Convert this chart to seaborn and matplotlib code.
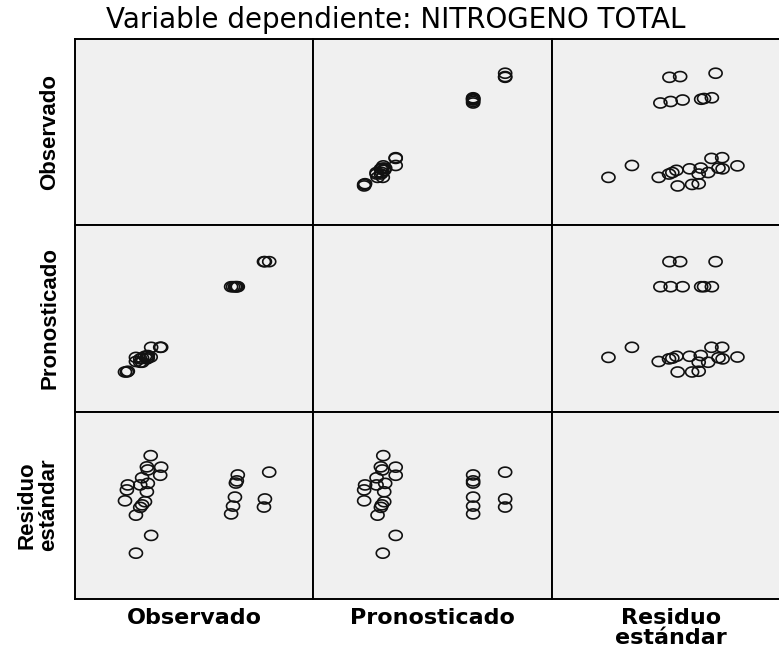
import matplotlib
matplotlib.use("Agg")
import numpy as np
import pandas as pd
import seaborn as sns
import matplotlib.pyplot as plt
from matplotlib.path import Path

# ---- data ----
observado = [0.159, 0.151, 0.153, 0.181, 0.179, 0.141, 0.111, 0.109, 0.137,
             0.153, 0.151, 0.105, 0.147, 0.141, 0.137, 0.128, 0.160, 0.128,
             0.342, 0.340, 0.338, 0.336, 0.332, 0.328,
             0.408, 0.399, 0.397]
pronosticado = [0.147, 0.142, 0.145, 0.173, 0.173, 0.133, 0.109, 0.107, 0.133,
                0.151, 0.149, 0.107, 0.149, 0.144, 0.142, 0.135, 0.173, 0.146,
                0.335, 0.335, 0.335, 0.335, 0.335, 0.335,
                0.402, 0.402, 0.402]
residuo = [1.60, 1.24, 1.14, 1.23, 0.97, 0.89, 0.66, 0.50, 0.66,
           0.71, 0.44, 0.15, 0.12, 0.02, -0.06, -0.31, -0.96, -1.53,
           0.98, 0.79, 0.72, 0.27, -0.02, -0.27,
           1.07, 0.21, -0.05]

variables = ["Observado", "Pronosticado", "Residuo"]
var_labels = ["Observado", "Pronosticado", "Residuo\nestándar"]
title = "Variable dependiente: NITROGENO TOTAL"

df = pd.DataFrame({"Observado": observado,
                   "Pronosticado": pronosticado,
                   "Residuo": residuo})

sns.set_theme(style="white")

W, H = 779, 649
g = sns.PairGrid(df, vars=variables, height=2.2, aspect=1)
fig = g.figure
fig.set_size_inches(W / 100, H / 100)

# elliptical open marker (the source image is horizontally stretched)
t = np.linspace(0, 2 * np.pi, 60)
ellipse = Path(np.column_stack([1.3 * np.cos(t), np.sin(t)]), closed=True)

n = len(variables)
for i in range(n):
    for j in range(n):
        ax = g.axes[i, j]
        if i != j:
            sns.scatterplot(x=df[variables[j]], y=df[variables[i]], ax=ax,
                            marker=ellipse, s=88, facecolors="none",
                            edgecolor="#111111", linewidth=1.2)

limits_x = {"Observado": (0, 0.5), "Pronosticado": (0, 0.5), "Residuo": (-2.9, 2.9)}
limits_y = {"Observado": (0, 0.5), "Pronosticado": (0, 0.5), "Residuo": (-3, 3)}

col_left = [75, 313, 552]
col_w = [238, 239, 239]
row_top = [39, 225, 412]
row_h = [186, 187, 187]

for i in range(n):
    for j in range(n):
        ax = g.axes[i, j]
        ax.set_xlim(*limits_x[variables[j]])
        ax.set_ylim(*limits_y[variables[i]])
        ax.set_xticks([])
        ax.set_yticks([])
        ax.set_xlabel("")
        ax.set_ylabel("")
        ax.set_facecolor("#F0F0F0")
        for sp in ax.spines.values():
            sp.set_visible(True)
            sp.set_color("black")
            sp.set_linewidth(1.4)
        ax.set_position([col_left[j] / W, 1 - (row_top[i] + row_h[i]) / H,
                         col_w[j] / W, row_h[i] / H])

# title
fig.text(396 / W, 1 - 28 / H, title, ha="center", va="baseline",
         fontsize=20, family="DejaVu Sans", color="black")

# column labels
col_centers = [194, 432, 671]
for j, lab in enumerate(var_labels):
    lines = lab.split("\n")
    for k, ln in enumerate(lines):
        fig.text(col_centers[j] / W, 1 - (624 + 20 * k) / H, ln,
                 ha="center", va="baseline", fontsize=16,
                 fontweight="bold", family="DejaVu Sans", color="black")

# row labels
row_centers = [132, 318, 505]
row_x = [50, 50, 38]
for i, lab in enumerate(var_labels):
    fig.text(row_x[i] / W, 1 - row_centers[i] / H, lab, rotation=90,
             ha="center", va="center", fontsize=16, fontweight="bold",
             family="Liberation Sans", linespacing=1.05,
             multialignment="center", color="black")

fig.savefig("out.png", dpi=100, facecolor="white")
